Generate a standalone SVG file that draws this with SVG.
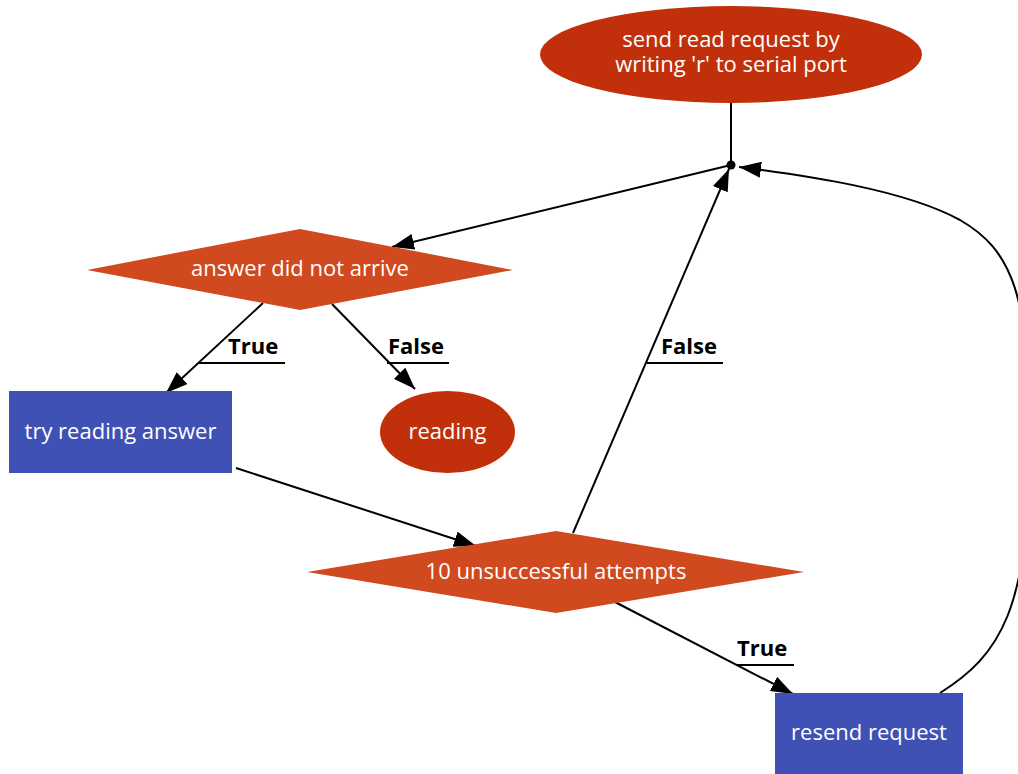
<svg xmlns="http://www.w3.org/2000/svg" width="1018" height="774" viewBox="0 0 1018 774">
<defs>
<style>
.node-text{font-family:"Open Sans","Liberation Sans",sans-serif;font-size:22px;fill:#ffffff;text-anchor:middle;}
.lbl{font-family:"Open Sans","Liberation Sans",sans-serif;font-size:22px;font-weight:bold;fill:#000000;}
.edge{fill:none;stroke:#000000;stroke-width:2;}
.ell{fill:#c1300a;}
.dia{fill:#d1491e;}
.box{fill:#3f51b5;}
</style>
<marker id="arr" viewBox="0 0 22 16" markerWidth="22" markerHeight="16" refX="22" refY="8" orient="auto" markerUnits="userSpaceOnUse">
<path d="M0,0 L22,8 L0,16 z" fill="#000000"/>
</marker>
</defs>
<rect width="1018" height="774" fill="#ffffff"/>
<g id="connectors">
<line class="edge" x1="731" y1="103" x2="731" y2="165"/>
<circle cx="731" cy="165" r="4.5" fill="#000000"/>
<line class="edge" x1="731" y1="165" x2="392" y2="247" marker-end="url(#arr)"/>
<line class="edge" x1="263" y1="303" x2="166" y2="393" marker-end="url(#arr)"/>
<line class="edge" x1="332" y1="304" x2="415" y2="389" marker-end="url(#arr)"/>
<line class="edge" x1="236" y1="468" x2="476" y2="546" marker-end="url(#arr)"/>
<line class="edge" x1="573" y1="533" x2="729" y2="169" marker-end="url(#arr)"/>
<line class="edge" x1="615" y1="602" x2="793" y2="694" marker-end="url(#arr)"/>
<path class="edge" d="M940,693 C1000,655 1030,610 1030,440 C1030,295 1012,250 960,220 C905,190 810,176 739,167" marker-end="url(#arr)"/>
<text class="lbl" x="228" y="354">True</text>
<line class="edge" x1="198" y1="363" x2="285" y2="363"/>
<text class="lbl" x="388" y="354">False</text>
<line class="edge" x1="387" y1="363" x2="449" y2="363"/>
<text class="lbl" x="661" y="354">False</text>
<line class="edge" x1="647" y1="363" x2="723" y2="363"/>
<text class="lbl" x="737" y="656">True</text>
<line class="edge" x1="736" y1="665" x2="794" y2="665"/>
</g>
<g id="node-send">
<ellipse class="ell" cx="731" cy="54.5" rx="191" ry="48.5"/>
<text class="node-text" x="731" y="47">send read request by</text>
<text class="node-text" x="731" y="72">writing 'r' to serial port</text>
</g>
<g id="node-answer">
<polygon class="dia" points="300,229 513,270 300,310 87,270"/>
<text class="node-text" x="300" y="276">answer did not arrive</text>
</g>
<g id="node-try">
<rect class="box" x="9" y="391" width="223" height="82"/>
<text class="node-text" x="120.5" y="439">try reading answer</text>
</g>
<g id="node-reading">
<ellipse class="ell" cx="447.5" cy="432" rx="67.5" ry="41"/>
<text class="node-text" x="447.5" y="439">reading</text>
</g>
<g id="node-attempts">
<polygon class="dia" points="556,531 804,572 556,613 307,572"/>
<text class="node-text" x="556" y="579">10 unsuccessful attempts</text>
</g>
<g id="node-resend">
<rect class="box" x="775" y="693" width="188" height="82"/>
<text class="node-text" x="869" y="740">resend request</text>
</g>
</svg>
